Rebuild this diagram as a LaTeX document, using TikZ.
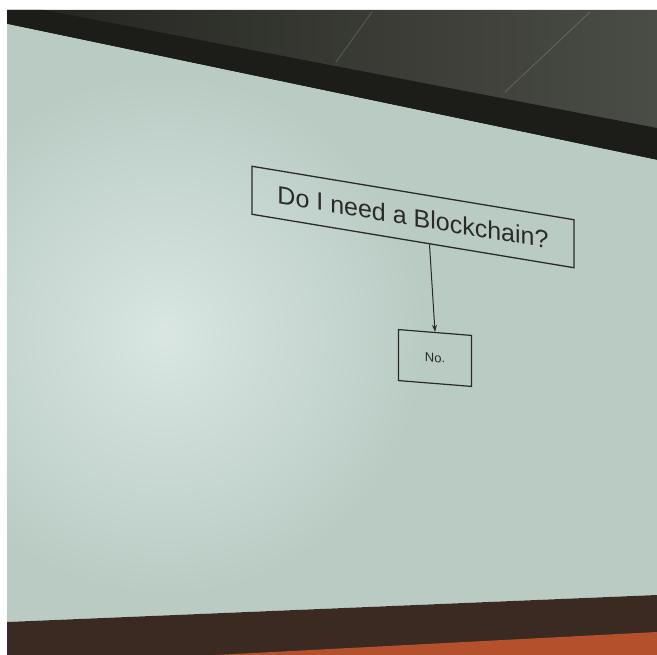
\documentclass[tikz,border=0pt]{standalone}
\usepackage{fontspec}
\setmainfont{Liberation Sans}
\usetikzlibrary{arrows.meta,calc}
\definecolor{inkc}{HTML}{2A2B28}
\definecolor{screenc}{HTML}{BACBC4}
\definecolor{glarec}{HTML}{D9E6E2}
\definecolor{ceilL}{HTML}{23241F}
\definecolor{ceilR}{HTML}{4A4D45}
\definecolor{trimc}{HTML}{1C1D18}
\definecolor{floorc}{HTML}{3A2A22}
\definecolor{orangec}{HTML}{B4502C}
\begin{document}
\begin{tikzpicture}[x=1pt,y=1pt,
  boxnode/.style={draw=inkc, line width=1.3pt, text=inkc, inner sep=0pt, transform shape},
  link/.style={draw=inkc, line width=1pt, -{Stealth[length=7pt,width=5pt]}}]
\useasboundingbox (0,0) rectangle (657,-655);
\fill[white] (0,0) rectangle (657,-655);
% ceiling
\shade[left color=ceilL, right color=ceilR] (7,-10) -- (657,-10) -- (657,-160) -- (7,-24) -- cycle;
\draw[white, opacity=0.15, line width=1pt] (372,-12) -- (336,-62);
\draw[white, opacity=0.15, line width=1pt] (590,-12) -- (505,-92);
% ceiling trim
\fill[trimc] (7,-10) -- (44,-10) -- (657,-128) -- (657,-160) -- (7,-24) -- cycle;
% screen
\fill[screenc] (7,-24) -- (657,-160) -- (657,-595) -- (7,-622) -- cycle;
\begin{scope}
  \clip (7,-24) -- (657,-160) -- (657,-595) -- (7,-622) -- cycle;
  \shade[inner color=glarec, outer color=screenc] (165,-335) circle (260);
\end{scope}
% floor edge
\fill[floorc] (7,-622) -- (657,-595) -- (657,-655) -- (7,-655) -- cycle;
\fill[orangec] (215,-655) -- (657,-632) -- (657,-655) -- cycle;
% diagram
\begin{scope}[shift={(413,-217)}, yslant=-0.166]
  \node[boxnode, minimum width=322, minimum height=48] (q) at (0,0)
    {\fontsize{25}{30}\selectfont Do I need a Blockchain?};
\end{scope}
\begin{scope}[shift={(435,-358)}, yslant=-0.08]
  \node[boxnode, line width=1.2pt, minimum width=73, minimum height=51] (n) at (0,0)
    {\fontsize{13}{15}\selectfont No.};
\end{scope}
\draw[link] ($(q.south west)!0.551!(q.south east)$) -- (n.north);
\end{tikzpicture}
\end{document}
